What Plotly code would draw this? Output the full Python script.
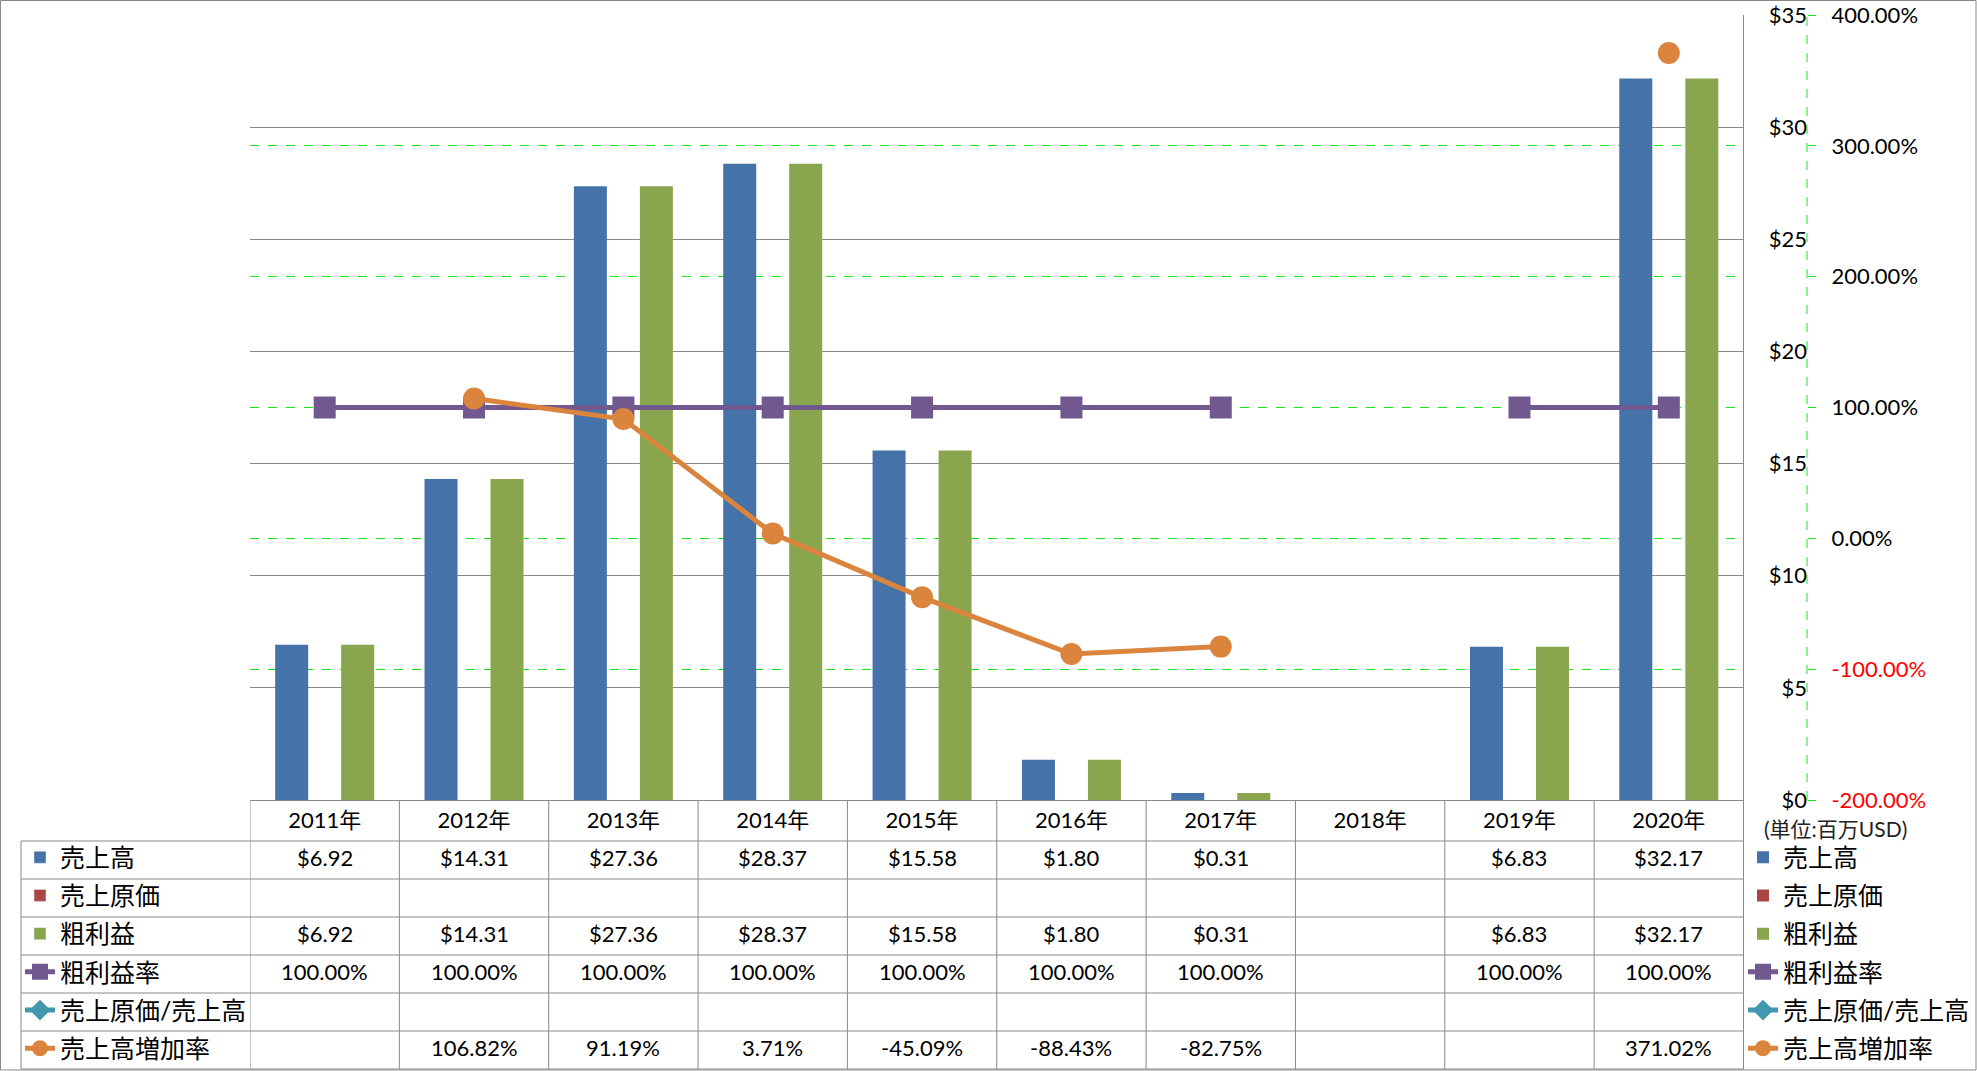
import plotly.graph_objects as go

# ---------------- data ----------------
years = ['2011年', '2012年', '2013年', '2014年', '2015年', '2016年', '2017年', '2018年', '2019年', '2020年']
sales = [6.92, 14.31, 27.36, 28.37, 15.58, 1.80, 0.31, None, 6.83, 32.17]
cost = [None, None, None, None, None, None, None, None, None, None]
gross = [6.92, 14.31, 27.36, 28.37, 15.58, 1.80, 0.31, None, 6.83, 32.17]
gross_margin = [100.0, 100.0, 100.0, 100.0, 100.0, 100.0, 100.0, None, 100.0, 100.0]
cost_ratio = [None, None, None, None, None, None, None, None, None, None]
sales_growth = [None, 106.82, 91.19, 3.71, -45.09, -88.43, -82.75, None, None, 371.02]

series_names = ['売上高', '売上原価', '粗利益', '粗利益率', '売上原価/売上高', '売上高増加率']
money_ticks = [0, 5, 10, 15, 20, 25, 30, 35]
pct_ticks = [-200, -100, 0, 100, 200, 300, 400]
unit_label = '(単位:百万USD)'

# ---------------- styles / layout geometry ----------------
colors = ['#4572A7', '#AA4643', '#89A54E', '#71588F', '#4198AF', '#DB843D']
GRID = '#898989'
GREEN = '#19E619'
FONT = 'Lato, "Noto Sans CJK JP", sans-serif'
W, H = 1977, 1071
ML, MR, MT, MB = 250, 100, 15, 271
PW = W - ML - MR
PH = H - MT - MB


def fx(p):
    return (p - ML) / PW


def fy(p):
    return (H - MB - p) / PH


PLOT_RIGHT = 1743.5
TABLE_LEFT = 21
HEADER_BOTTOM = 841
ROW_H = 38
N_ROWS = 6
TABLE_BOTTOM = HEADER_BOTTOM + ROW_H * N_ROWS

fig = go.Figure()

# ---------------- main traces ----------------
bar_data = [sales, cost, gross]
for k in range(3):
    fig.add_trace(go.Bar(
        x=years, y=bar_data[k], name=series_names[k],
        marker=dict(color=colors[k], line=dict(width=0)),
        legend='legend', legendgroup='g%d' % k,
    ))

line_data = [gross_margin, cost_ratio, sales_growth]
symbols = ['square', 'diamond', 'circle']
for k in range(3):
    fig.add_trace(go.Scatter(
        x=years, y=line_data[k], name=series_names[3 + k], yaxis='y2',
        mode='lines+markers', connectgaps=False,
        line=dict(color=colors[3 + k], width=5),
        marker=dict(symbol=symbols[k], size=22, color=colors[3 + k]),
        legend='legend', legendgroup='g%d' % (3 + k),
    ))

# ---------------- dummy traces for the table's left legend ----------------
for k in range(3):
    fig.add_trace(go.Bar(
        x=[None], y=[None], name=series_names[k], xaxis='x3', yaxis='y3',
        marker=dict(color=colors[k]), legend='legend2', legendgroup='h%d' % k,
        hoverinfo='skip',
    ))
for k in range(3):
    fig.add_trace(go.Scatter(
        x=[None], y=[None], name=series_names[3 + k], xaxis='x3', yaxis='y3',
        mode='lines+markers', line=dict(color=colors[3 + k], width=5),
        marker=dict(symbol=symbols[k], size=22, color=colors[3 + k]),
        legend='legend2', legendgroup='h%d' % (3 + k), hoverinfo='skip',
    ))

# ---------------- table values (annotations) ----------------
def fmt_money(v):
    return '$%.2f' % v


def fmt_pct(v):
    return '%.2f%%' % v


table_rows = [(sales, fmt_money), (cost, fmt_money), (gross, fmt_money),
              (gross_margin, fmt_pct), (cost_ratio, fmt_pct), (sales_growth, fmt_pct)]
annotations = []
for r, (vals, f) in enumerate(table_rows):
    yc = fy(HEADER_BOTTOM + ROW_H * (r + 0.5) - 2.5)
    for i, v in enumerate(vals):
        if v is None:
            continue
        annotations.append(dict(
            x=years[i], xref='x', y=yc, yref='paper', text=f(v), showarrow=False,
            xanchor='center', yanchor='middle', font=dict(size=22, color='black', family=FONT),
        ))

annotations.append(dict(
    x=fx(1762), xref='paper', y=fy(828), yref='paper', text=unit_label, showarrow=False,
    xanchor='left', yanchor='middle', font=dict(size=21, color='#222222', family=FONT),
))

# ---------------- table grid (shapes) ----------------
shapes = []
line_style = dict(color=GRID, width=1)
for i in range(len(years) + 1):
    shapes.append(dict(type='line', xref='x', yref='paper', x0=i - 0.5, x1=i - 0.5,
                       y0=fy(800), y1=fy(TABLE_BOTTOM), line=line_style))
shapes.append(dict(type='line', xref='paper', yref='paper', x0=fx(PLOT_RIGHT), x1=fx(PLOT_RIGHT),
                   y0=1, y1=fy(TABLE_BOTTOM), line=line_style))
shapes.append(dict(type='line', xref='paper', yref='paper', x0=fx(TABLE_LEFT), x1=fx(TABLE_LEFT),
                   y0=fy(HEADER_BOTTOM), y1=fy(TABLE_BOTTOM), line=line_style))
for r in range(N_ROWS + 1):
    yy = fy(HEADER_BOTTOM + ROW_H * r)
    shapes.append(dict(type='line', xref='paper', yref='paper', x0=fx(TABLE_LEFT), x1=fx(PLOT_RIGHT),
                       y0=yy, y1=yy, line=line_style))
shapes.append(dict(type='line', xref='paper', yref='paper', x0=fx(1807), x1=fx(1807),
                   y0=0, y1=1, line=dict(color=GREEN, width=1, dash='dash')))
shapes.append(dict(type='rect', xref='paper', yref='paper', x0=fx(0.5), x1=fx(W - 1),
                   y0=fy(0.5), y1=fy(H - 1), line=line_style, fillcolor='rgba(0,0,0,0)'))

money_text = ['$%d' % v for v in money_ticks]
pct_text = []
for v in pct_ticks:
    s = '%.2f%%' % v
    if v < 0:
        s = '<span style="color:#FF0000">%s</span>' % s
    pct_text.append(s)

fig.update_layout(
    width=W, height=H,
    margin=dict(l=ML, r=MR, t=MT, b=MB, pad=0, autoexpand=False),
    paper_bgcolor='white', plot_bgcolor='white',
    font=dict(family=FONT, size=22, color='black'),
    barmode='group', bargap=0.337, bargroupgap=0,
    showlegend=True,
    xaxis=dict(domain=[0, fx(PLOT_RIGHT)], type='category', range=[-0.5, len(years) - 0.5],
               showline=True, linecolor=GRID, linewidth=1, showgrid=False, zeroline=False,
               ticks='', tickfont=dict(size=22, family=FONT), ticklabelstandoff=1, fixedrange=True),
    yaxis=dict(range=[0, 35], tickmode='array', tickvals=money_ticks, ticktext=money_text,
               anchor='free', position=fx(1807),
               side='left', showgrid=True, gridcolor=GRID, gridwidth=1, zeroline=False,
               showline=False, ticks='', tickfont=dict(size=22, family=FONT), fixedrange=True),
    yaxis2=dict(range=[-200, 400], tickmode='array', tickvals=pct_ticks, ticktext=pct_text, overlaying='y',
                anchor='free', position=fx(1807), side='right', showgrid=True, gridcolor=GREEN,
                griddash='dash', gridwidth=1, zeroline=False, showline=False, ticks='outside',
                ticklen=8, tickcolor=GREEN, tickwidth=1, ticklabelstandoff=11,
                tickfont=dict(size=22, family=FONT), fixedrange=True),
    xaxis3=dict(overlaying='x', visible=False),
    yaxis3=dict(overlaying='y', visible=False),
    legend=dict(x=fx(1743), xanchor='left', y=fy(834.5), yanchor='top', traceorder='grouped',
                tracegroupgap=2.7, font=dict(size=25, family=FONT), bgcolor='rgba(0,0,0,0)',
                borderwidth=0),
    legend2=dict(x=fx(20), xanchor='left', y=fy(834.5), yanchor='top', traceorder='grouped',
                 tracegroupgap=2.7, font=dict(size=25, family=FONT), bgcolor='rgba(0,0,0,0)',
                 borderwidth=0),
    annotations=annotations,
    shapes=shapes,
)

fig.write_html('out.html', config={'displayModeBar': False, 'staticPlot': True},
               post_script="document.body.style.margin='0';document.body.style.overflow='hidden';")
